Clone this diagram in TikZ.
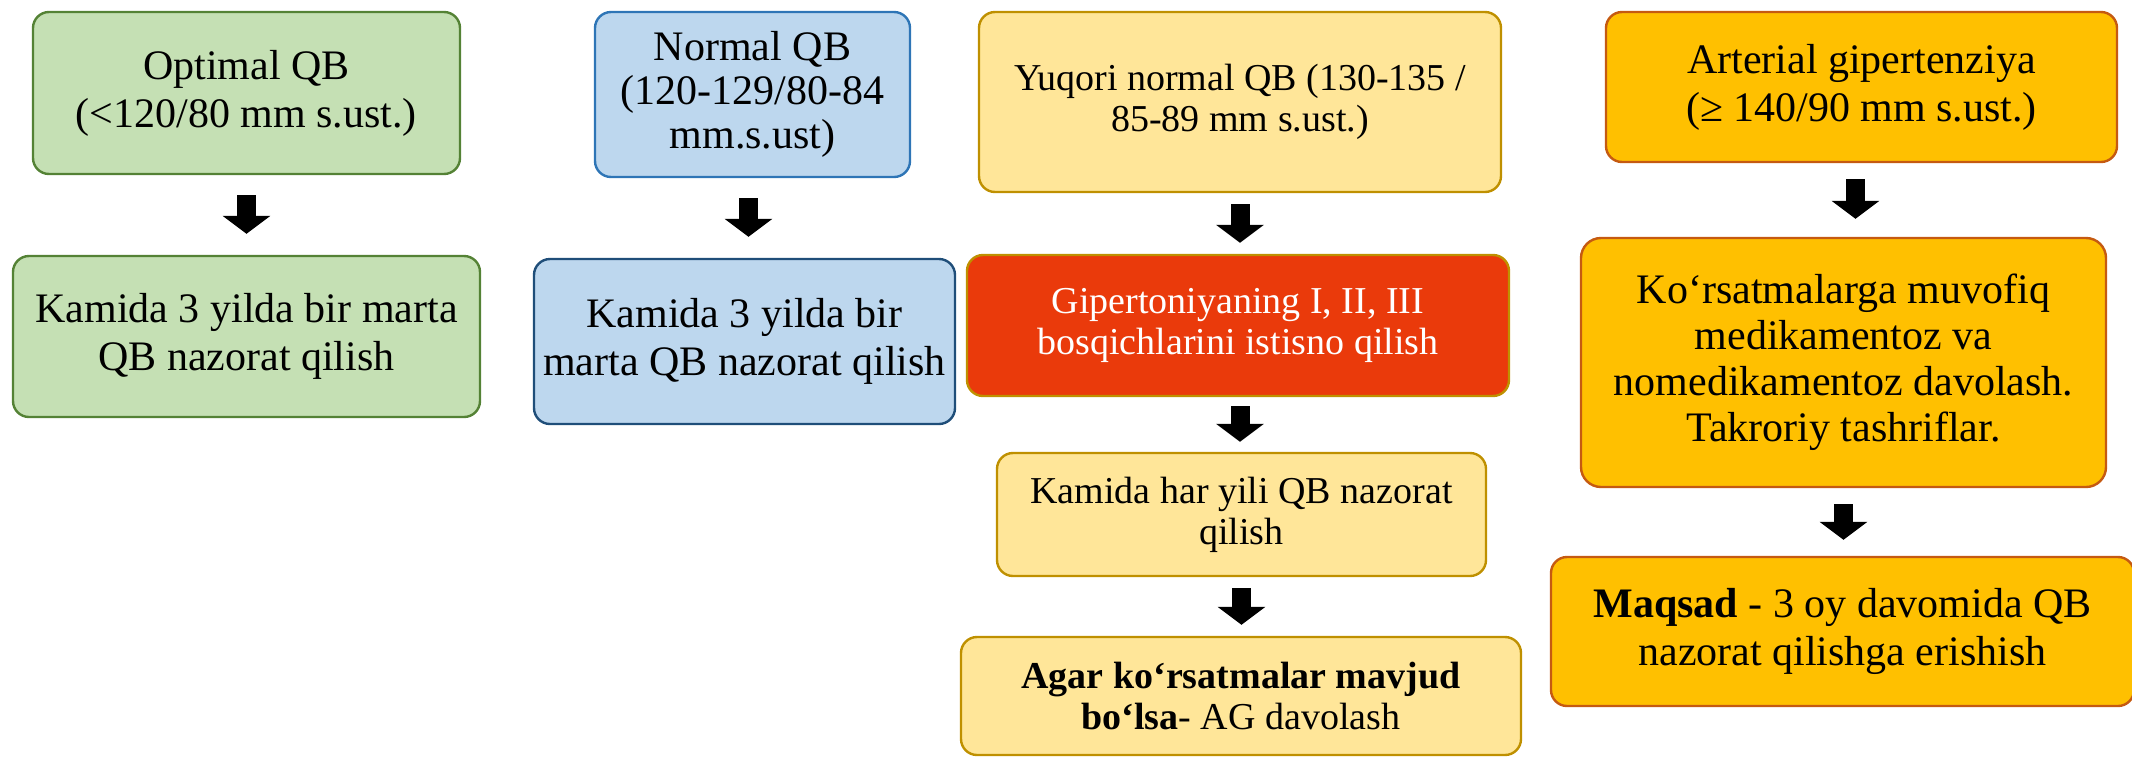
\documentclass[tikz,border=0pt]{standalone}
\usepackage{fontspec}
\setmainfont{Liberation Serif}
\usetikzlibrary{arrows.meta,calc}
\definecolor{gfill}{HTML}{C5E0B4}
\definecolor{gline}{HTML}{548235}
\definecolor{bfill}{HTML}{BDD7EE}
\definecolor{bline}{HTML}{2E75B6}
\definecolor{bline2}{HTML}{1F4E79}
\definecolor{yfill}{HTML}{FFE699}
\definecolor{yline}{HTML}{BF9000}
\definecolor{rfill}{HTML}{EA3A0B}
\definecolor{ofill}{HTML}{FFC000}
\definecolor{oline}{HTML}{C55A11}
\tikzset{
  box/.style={draw, line width=1.2pt, rounded corners=8pt, inner sep=0pt, align=center},
  big/.style={font=\fontsize{21}{24}\selectfont},
  mid/.style={font=\fontsize{19}{20.5}\selectfont},
  gbox/.style={box, big, fill=gfill, draw=gline},
  bbox/.style={box, big, fill=bfill, draw=bline},
  ybox/.style={box, mid, fill=yfill, draw=yline},
  rbox/.style={box, mid, fill=rfill, draw=yline, text=white},
  obox/.style={box, big, fill=ofill, draw=oline},
  blk/.style={line width=9.5pt, black, -{Triangle[width=23.5pt,length=9pt]}}
}
\begin{document}
\begin{tikzpicture}[x=0.5pt,y=-0.5pt]
\useasboundingbox (0,0) rectangle (2132,756);
% column 1
\node[gbox, minimum width=213.5pt, minimum height=81pt] (b1) at (246.5,93) {Optimal QB\\(<120/80 mm s.ust.)};
\node[gbox, minimum width=233.5pt, minimum height=80.5pt] (b3) at (246.5,336.5) {Kamida 3 yilda bir marta\\QB nazorat qilish};
% column 2
\node[bbox, font=\fontsize{21}{22}\selectfont, minimum width=157.5pt, minimum height=82.5pt] (b2) at (752.5,94.5) {Normal QB\\(120-129/80-84\\mm.s.ust)};
\node[bbox, draw=bline2, minimum width=210.5pt, minimum height=82.5pt] (b4) at (744.5,341.5) {Kamida 3 yilda bir\\marta QB nazorat qilish};
% column 3
\node[ybox, minimum width=261pt, minimum height=90pt] (b5) at (1240,102) {Yuqori normal QB (130-135 /\\85-89 mm s.ust.)};
\node[rbox, minimum width=271pt, minimum height=70.5pt] (b6) at (1238,325.5) {Gipertoniyaning I, II, III\\bosqichlarini istisno qilish};
\node[ybox, minimum width=244.5pt, minimum height=61.5pt] (b9) at (1241.5,514.5) {Kamida har yili QB nazorat\\qilish};
\node[ybox, minimum width=280pt, minimum height=59pt] (b10) at (1241,696) {\textbf{Agar ko‘rsatmalar mavjud}\\\textbf{bo‘lsa}- AG davolash};
% column 4
\node[obox, minimum width=255.5pt, minimum height=75pt] (b7) at (1861.5,87) {Arterial gipertenziya\\(≥ 140/90 mm s.ust.)};
\node[obox, rounded corners=10pt, font=\fontsize{21}{23}\selectfont, minimum width=262.5pt, minimum height=124.5pt] (b8) at (1843.5,362.5) {Ko‘rsatmalarga muvofiq\\medikamentoz va\\nomedikamentoz davolash.\\Takroriy tashriflar.};
\node[obox, minimum width=291.5pt, minimum height=74.5pt] (b11) at (1842.5,631.5) {\textbf{Maqsad} - 3 oy davomida QB\\nazorat qilishga erishish};
% arrows
\draw[blk, shorten <=10pt, shorten >=10.5pt] (b1.south) -- (b1.south |- b3.north);
\draw[blk, shorten <=10pt, shorten >=10.5pt] ([xshift=-2pt]b2.south) -- ([xshift=-2pt]b2.south |- b4.north);
\draw[blk, shorten <=5.5pt, shorten >=5.5pt] (b5.south) -- (b5.south |- b6.north);
\draw[blk, shorten <=4.5pt, shorten >=5pt] ([xshift=1pt]b6.south) -- ([xshift=1pt]b6.south |- b9.north);
\draw[blk, shorten <=5.5pt, shorten >=5.5pt] (b9.south) -- (b9.south |- b10.north);
\draw[blk, shorten <=8pt, shorten >=9pt] ([xshift=-3pt]b7.south) -- ([xshift=-3pt]b7.south |- b8.north);
\draw[blk, shorten <=8pt, shorten >=8pt] (b8.south) -- (b8.south |- b11.north);
\end{tikzpicture}
\end{document}
